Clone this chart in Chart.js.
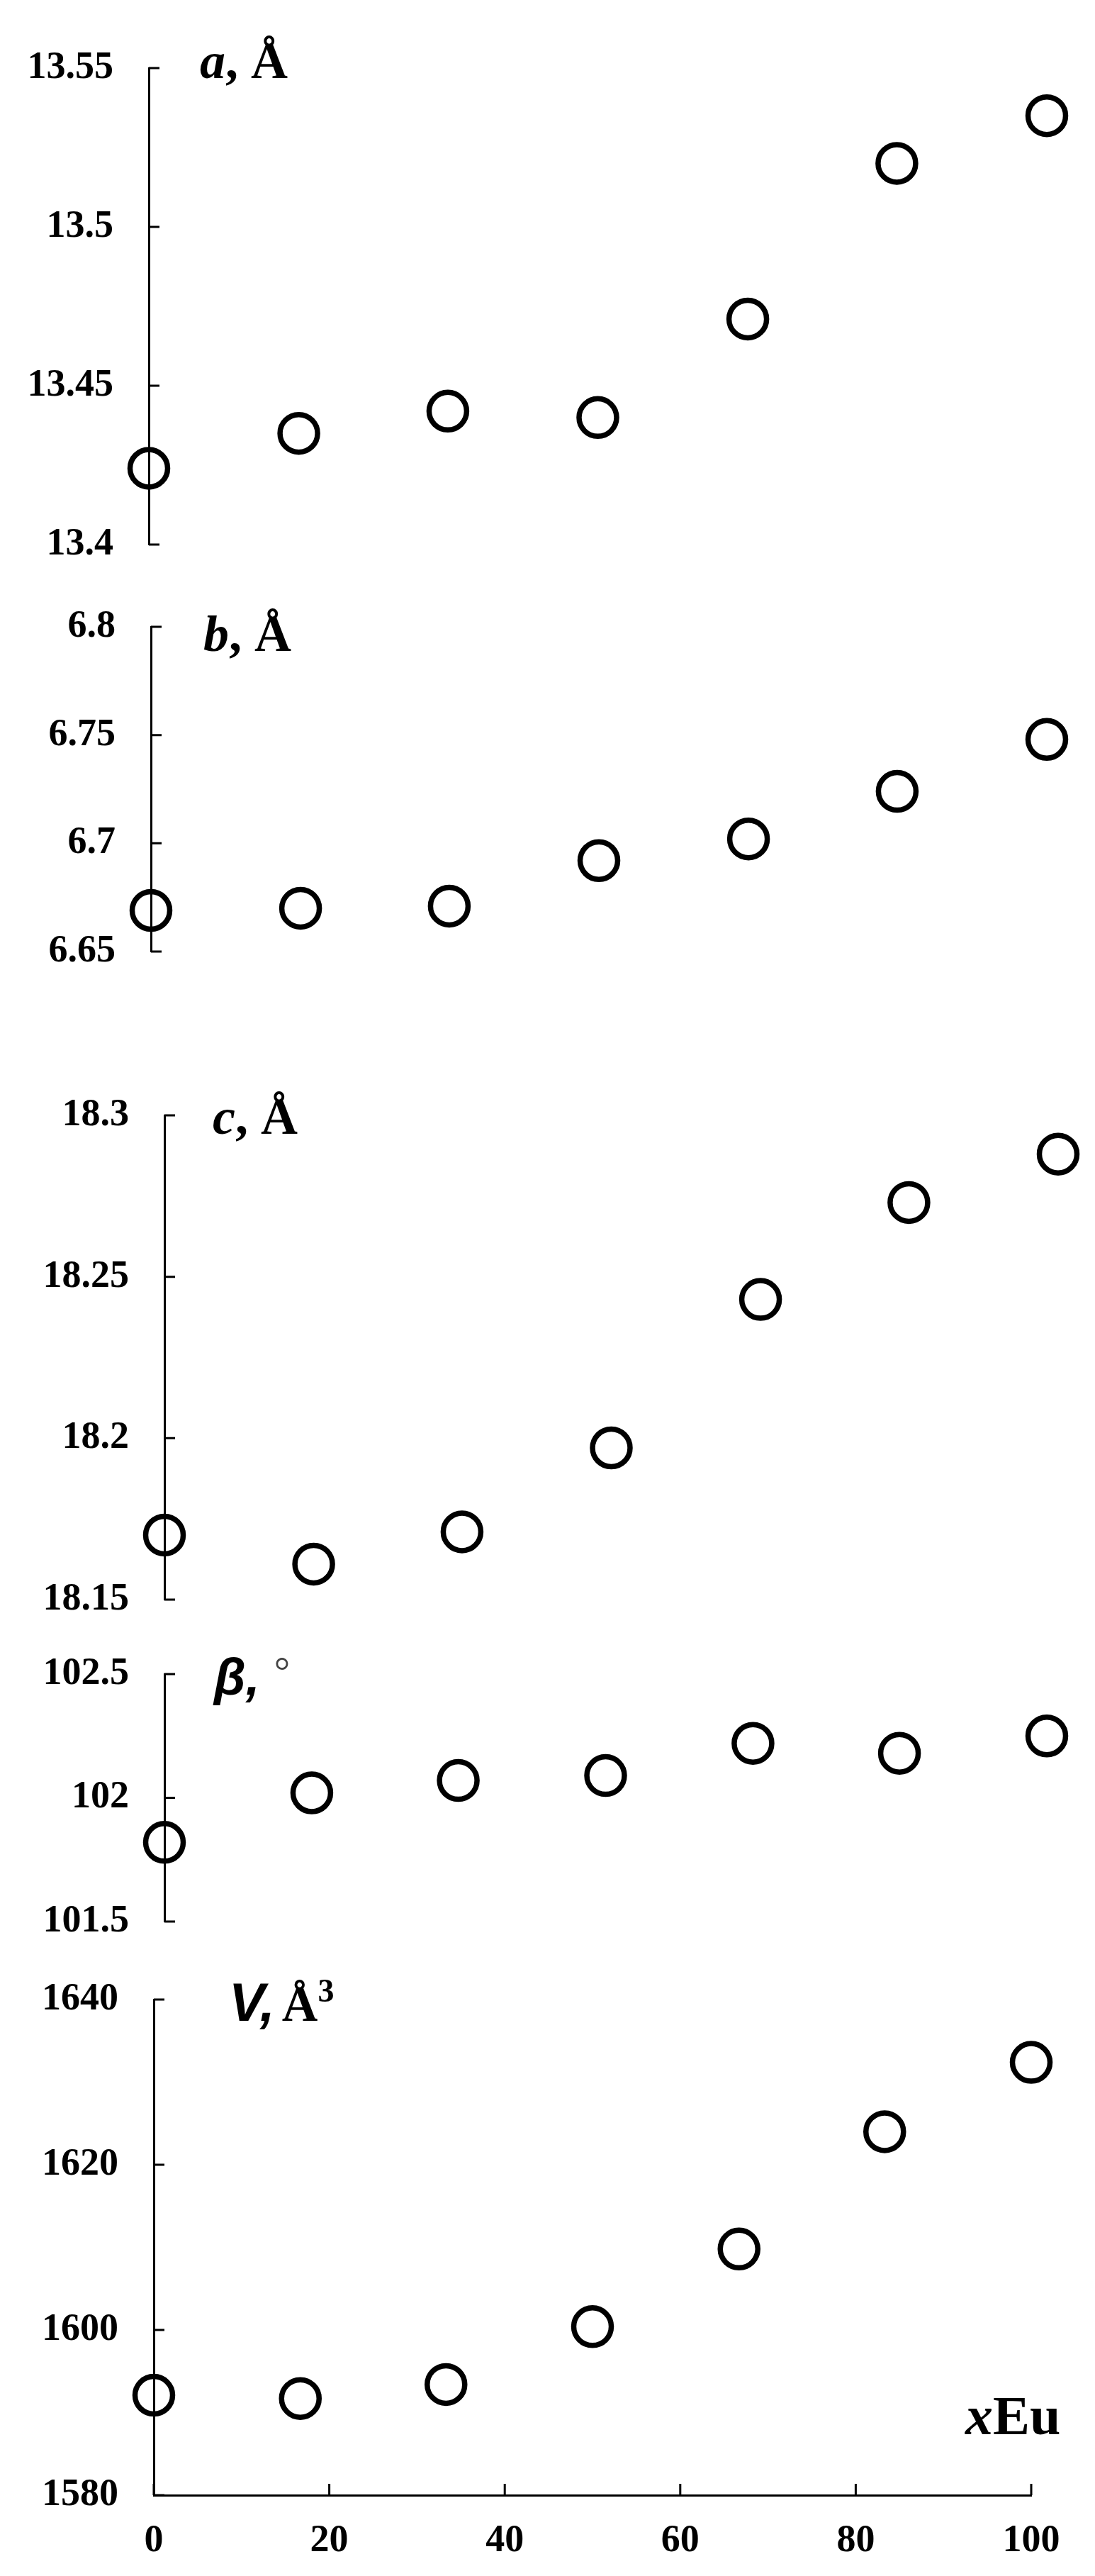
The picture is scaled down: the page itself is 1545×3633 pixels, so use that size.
<!DOCTYPE html>
<html>
<head>
<meta charset="utf-8">
<script src="https://cdn.jsdelivr.net/npm/chart.js@4.4.1/dist/chart.umd.min.js"></script>
<style>
  body { margin: 0; background: #fff; width: 1545px; height: 3633px; position: relative; overflow: hidden; }
  canvas { position: absolute; left: 0; }
  .lbl { position: absolute; font-family: "Liberation Serif", "Times New Roman", serif; font-weight: bold; line-height: 1; white-space: nowrap; color: #000; }
  .sans { font-family: "Liberation Sans", Arial, sans-serif; font-style: italic; }
  .serif { font-family: "Liberation Serif", "Times New Roman", serif; font-style: normal; }
</style>
</head>
<body>
<canvas id="chartA"></canvas>
<canvas id="chartB"></canvas>
<canvas id="chartC"></canvas>
<canvas id="chartBeta"></canvas>
<canvas id="chartV"></canvas>

<div class="lbl" style="left:282px; top:50px; font-size:72px;"><i>a</i>, Å</div>
<div class="lbl" style="left:287px; top:858px; font-size:72px;"><i>b</i>, Å</div>
<div class="lbl" style="left:300px; top:1539px; font-size:72px;"><i>c</i>, Å</div>
<div class="lbl sans" style="left:302px; top:2329px; font-size:72px;">β, <span class="serif" style="font-size:56px; font-weight:normal; color:#444; position:relative; top:-14px;">°</span></div>
<div class="lbl sans" style="left:323px; top:2786px; font-size:76px;">V,<span class="serif" style="font-size:70px; margin-left:10px;">Å</span><span class="serif" style="font-size:46px; position:relative; top:-27px;">3</span></div>
<div class="lbl" style="left:1362px; top:3368px; font-size:78px;"><i>x</i>Eu</div>

<script>
// Содержание Eu (ось X, общая для всех панелей)
const xEu = [0, 16.7, 33.3, 50, 66.7, 83.3, 100];
const xTicks = [0, 20, 40, 60, 80, 100];

// Параметры решётки
const aVals = [13.424, 13.435, 13.442, 13.440, 13.471, 13.520, 13.535];
const aTicks = [13.4, 13.45, 13.5, 13.55];

const bVals = [6.669, 6.670, 6.671, 6.692, 6.702, 6.724, 6.748];
const bTicks = [6.65, 6.7, 6.75, 6.8];

const cVals = [18.170, 18.161, 18.171, 18.197, 18.243, 18.273, 18.288];
const cTicks = [18.15, 18.2, 18.25, 18.3];

const betaVals = [101.82, 102.02, 102.07, 102.09, 102.22, 102.18, 102.25];
const betaTicks = [101.5, 102, 102.5];

const vVals = [1592.1, 1591.7, 1593.4, 1600.4, 1609.8, 1624.0, 1632.4];
const vTicks = [1580, 1600, 1620, 1640];

const PAGE_W = 1545;
const PAGE_H = 3633;
const tickFont = { family: '"Liberation Serif", "Times New Roman", serif', weight: 'bold', size: 54 };

// Короткие засечки внутрь графика
const innerTicks = {
  id: 'innerTicks',
  beforeDatasetsDraw(chart) {
    const ctx = chart.ctx;
    const y = chart.scales.y;
    const x = chart.scales.x;
    ctx.save();
    ctx.strokeStyle = '#000';
    ctx.lineWidth = 3;
    ctx.beginPath();
    y.ticks.forEach(t => {
      const py = y.getPixelForValue(t.value);
      ctx.moveTo(y.right, py);
      ctx.lineTo(y.right + 15, py);
    });
    if (x.options.display) {
      x.ticks.forEach(t => {
        const px = x.getPixelForValue(t.value);
        ctx.moveTo(px, x.top);
        ctx.lineTo(px, x.top - 16);
      });
    }
    ctx.stroke();
    ctx.restore();
  }
};

// Построение одной панели
function makePanel(id, vals, ticks, box, showX) {
  const canvas = document.getElementById(id);
  const pad = 90; // больше, чем половина подписи + отступ подписи
  const canvasTop = box.top - pad;
  const plotH = box.bottom - box.top;
  const xAxisH = 100;
  const canvasH = showX ? PAGE_H - canvasTop : plotH + 2 * pad;
  canvas.width = PAGE_W;
  canvas.height = canvasH;
  canvas.style.top = canvasTop + 'px';

  new Chart(canvas, {
    type: 'scatter',
    data: {
      datasets: [{
        data: xEu.map((x, i) => ({ x, y: vals[i] })),
        pointStyle: 'circle',
        pointRadius: 26.5,
        borderWidth: 7.5,
        borderColor: '#000',
        backgroundColor: 'rgba(0,0,0,0)',
        clip: false
      }]
    },
    options: {
      responsive: false,
      animation: false,
      events: [],
      layout: {
        padding: {
          top: pad,
          left: 0,
          right: PAGE_W - box.x100,
          bottom: showX ? canvasH - pad - plotH - xAxisH : pad
        }
      },
      plugins: { legend: { display: false }, tooltip: { enabled: false } },
      scales: {
        x: {
          type: 'linear',
          min: 0,
          max: 100,
          display: showX,
          afterBuildTicks: s => { s.ticks = xTicks.map(v => ({ value: v })); },
          afterFit: s => { if (showX) s.height = xAxisH; },
          grid: { display: false, drawTicks: false },
          border: { display: true, color: '#000', width: 3 },
          ticks: { font: tickFont, color: '#000', padding: 33, maxRotation: 0, autoSkip: false, callback: v => String(v) }
        },
        y: {
          type: 'linear',
          min: ticks[0],
          max: ticks[ticks.length - 1],
          afterBuildTicks: s => { s.ticks = ticks.map(v => ({ value: v })); },
          afterFit: s => { s.width = box.axisX; },
          grid: { display: false, drawTicks: false },
          border: { display: true, color: '#000', width: 3 },
          ticks: { font: tickFont, color: '#000', padding: 50, autoSkip: false, callback: v => String(v) }
        }
      }
    },
    plugins: [innerTicks]
  });
}

makePanel('chartA', aVals, aTicks, { top: 96, bottom: 768, axisX: 210, x100: 1477 }, false);
makePanel('chartB', bVals, bTicks, { top: 884, bottom: 1342, axisX: 213, x100: 1477 }, false);
makePanel('chartC', cVals, cTicks, { top: 1573, bottom: 2256, axisX: 232, x100: 1493 }, false);
makePanel('chartBeta', betaVals, betaTicks, { top: 2361, bottom: 2710, axisX: 232, x100: 1477 }, false);
makePanel('chartV', vVals, vTicks, { top: 2820, bottom: 3519, axisX: 217, x100: 1455 }, true);
</script>
</body>
</html>
